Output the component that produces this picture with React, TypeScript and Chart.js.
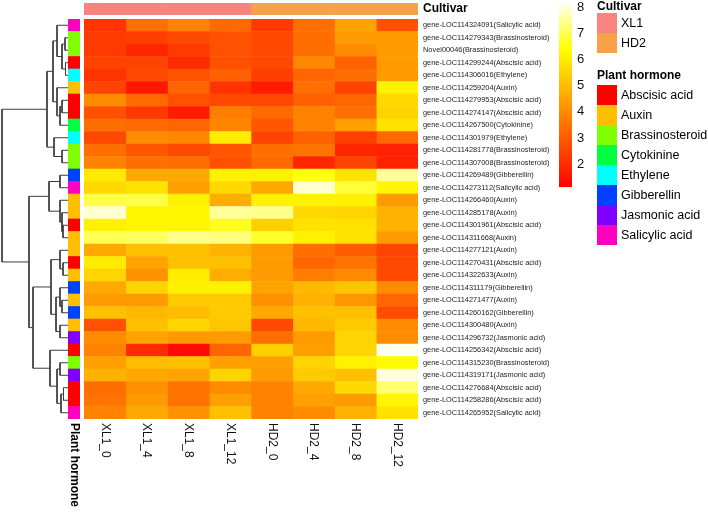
import React, { useEffect, useRef } from "react";
import { Chart, registerables } from "chart.js";

Chart.register(...registerables);

const FONT = '"Liberation Sans", Arial, Helvetica, sans-serif';
Chart.defaults.font.family = FONT;

// ---------------- data ----------------
const columns = ["XL1_0", "XL1_4", "XL1_8", "XL1_12", "HD2_0", "HD2_4", "HD2_8", "HD2_12"];
const cultivarOfColumn = ["XL1", "XL1", "XL1", "XL1", "HD2", "HD2", "HD2", "HD2"];
const cultivars = ["XL1", "HD2"];
const cultivarColors = ["#F9837F", "#F7A249"];

const genes = [
  "gene-LOC114324091(Salicylic acid)",
  "gene-LOC114279343(Brassinosteroid)",
  "Novel00046(Brassinosteroid)",
  "gene-LOC114299244(Abscisic acid)",
  "gene-LOC114306016(Ethylene)",
  "gene-LOC114259204(Auxin)",
  "gene-LOC114279953(Abscisic acid)",
  "gene-LOC114274147(Abscisic acid)",
  "gene-LOC114267500(Cytokinine)",
  "gene-LOC114301979(Ethylene)",
  "gene-LOC114281778(Brassinosteroid)",
  "gene-LOC114307008(Brassinosteroid)",
  "gene-LOC114269489(Gibberellin)",
  "gene-LOC114273112(Salicylic acid)",
  "gene-LOC114266460(Auxin)",
  "gene-LOC114285178(Auxin)",
  "gene-LOC114301961(Abscisic acid)",
  "gene-LOC114311668(Auxin)",
  "gene-LOC114277121(Auxin)",
  "gene-LOC114270431(Abscisic acid)",
  "gene-LOC114322633(Auxin)",
  "gene-LOC114311179(Gibberellin)",
  "gene-LOC114271477(Auxin)",
  "gene-LOC114260162(Gibberellin)",
  "gene-LOC114300480(Auxin)",
  "gene-LOC114296732(Jasmonic acid)",
  "gene-LOC114256342(Abscisic acid)",
  "gene-LOC114315230(Brassinosteroid)",
  "gene-LOC114319171(Jasmonic acid)",
  "gene-LOC114276684(Abscisic acid)",
  "gene-LOC114258286(Abscisic acid)",
  "gene-LOC114265952(Salicylic acid)",
];

const hormones = [
  "Abscisic acid", "Auxin", "Brassinosteroid", "Cytokinine",
  "Ethylene", "Gibberellin", "Jasmonic acid", "Salicylic acid",
];
const hormoneColors = ["#FF0000", "#FFBF00", "#80FF00", "#00FF40", "#00FFFF", "#0040FF", "#8000FF", "#FF00BF"];

// expression values, one array per column (rows in gene order)
const XL1_0 = [2.2, 2.3, 2.3, 2.5, 2.2, 2.5, 4.0, 2.8, 3.4, 2.6, 3.4, 3.8, 5.95, 5.6, 6.9, 7.9, 6.1, 7.0, 4.6, 6.0, 5.5, 4.6, 4.3, 5.1, 2.8, 4.0, 3.8, 4.4, 4.8, 3.4, 3.5, 3.8];
const XL1_4 = [3.4, 2.4, 1.9, 2.5, 2.6, 1.6, 3.3, 2.3, 3.3, 4.0, 2.9, 3.4, 4.6, 5.8, 6.9, 6.2, 6.2, 7.1, 5.1, 4.5, 4.1, 5.5, 4.3, 4.9, 5.1, 4.5, 2.0, 5.0, 4.6, 4.1, 4.3, 4.6];
const XL1_8 = [3.8, 2.6, 2.3, 2.0, 2.8, 3.2, 2.8, 1.7, 3.2, 3.9, 2.6, 3.4, 4.6, 4.4, 6.1, 6.2, 6.2, 7.4, 5.1, 5.1, 6.0, 6.1, 5.3, 5.0, 5.5, 4.3, 1.3, 5.1, 4.5, 3.5, 3.5, 4.1];
const XL1_12 = [3.3, 2.8, 2.8, 2.8, 3.1, 2.2, 2.6, 3.7, 3.9, 6.0, 2.9, 2.8, 6.1, 5.6, 4.7, 7.5, 6.6, 7.3, 4.8, 5.1, 4.7, 6.1, 5.3, 5.3, 5.2, 4.3, 3.2, 4.4, 5.5, 4.0, 4.4, 5.1];
const HD2_0 = [2.3, 2.6, 2.6, 2.6, 2.4, 1.7, 2.6, 3.3, 2.9, 2.5, 3.4, 3.3, 6.1, 4.6, 6.1, 7.4, 5.4, 6.7, 4.3, 4.3, 4.3, 4.5, 4.1, 4.6, 2.6, 3.4, 5.4, 4.4, 4.3, 3.8, 3.8, 3.8];
const HD2_4 = [3.4, 3.4, 3.4, 3.9, 3.2, 3.4, 3.1, 3.8, 3.8, 3.1, 3.5, 1.9, 6.5, 7.9, 6.1, 5.6, 5.8, 6.1, 3.4, 3.2, 3.7, 4.9, 4.8, 5.1, 4.9, 4.3, 4.4, 5.5, 5.3, 4.6, 4.4, 4.0];
const HD2_8 = [4.5, 4.3, 4.0, 3.1, 3.4, 2.5, 3.2, 3.4, 4.4, 2.4, 1.9, 2.5, 5.8, 6.8, 6.1, 5.5, 5.8, 5.8, 3.0, 3.5, 4.0, 5.2, 4.2, 5.1, 5.3, 5.5, 5.5, 6.1, 5.1, 5.6, 4.3, 4.8];
const HD2_12 = [2.8, 4.3, 4.3, 4.3, 4.3, 6.1, 5.6, 5.5, 5.8, 3.3, 1.8, 1.8, 7.5, 6.2, 4.3, 4.8, 4.8, 4.3, 2.5, 2.6, 2.6, 4.0, 3.2, 2.7, 4.0, 4.0, 8.1, 6.3, 8.0, 7.2, 6.2, 5.8];
const columnValues = [XL1_0, XL1_4, XL1_8, XL1_12, HD2_0, HD2_4, HD2_8, HD2_12];

// colour legend
const scaleMin = 1.12;
const scaleMax = 8.15;
const colorbarTicks = [2, 3, 4, 5, 6, 7, 8];

// row dendrogram (hclust style: negative = leaf -(row+1), positive = merge number)
const mergeLeft = [-2, -4, 1, -1, -7, 5, -6, 4, -11, -10, 8, -13, -17, -16, -15, 12, -20, -19, -23, -22, -25, 20, 18, -28, -30, 25, 24, -27, 23, 16, 11];
const mergeRight = [-3, -5, 2, 3, -8, -9, 6, 7, -12, 9, 10, -14, -18, 13, 14, 15, -21, 17, -24, 19, -26, 21, 22, -29, -31, -32, 26, 27, 28, 29, 30];
const mergeHeight = [3, 2.5, 6, 11, 6, 8, 11, 15, 6, 14, 21, 8, 5, 6, 8, 19, 5, 8, 6, 8, 8, 12, 17, 8, 4.5, 7, 11, 18, 35, 39, 66];
const dendroMax = 68;

// ---------------- helpers ----------------
function heatColor(t: number): string {
  const u = Math.max(0, Math.min(1, t));
  if (u <= 0.75) {
    const g = Math.round((u / 0.75) * 255);
    return `rgb(255,${g},0)`;
  }
  const s = 1 - ((u - 0.75) / 0.25) * 0.95;
  return `rgb(255,255,${Math.round(255 * (1 - s))})`;
}
function valueColor(v: number): string {
  return heatColor((v - scaleMin) / (scaleMax - scaleMin));
}
function hormoneOf(label: string): string {
  const m = label.match(/\(([^)]+)\)/);
  return m ? m[1] : "";
}

const TOP = 19; // heatmap top (px)
const ROW_AREA_BOTTOM_PAD = 93; // 512 - 419

export default function App() {
  const dendroRef = useRef<HTMLCanvasElement>(null);
  const annoRef = useRef<HTMLCanvasElement>(null);
  const heatRef = useRef<HTMLCanvasElement>(null);
  const cultRef = useRef<HTMLCanvasElement>(null);
  const barRef = useRef<HTMLCanvasElement>(null);

  useEffect(() => {
    const charts: Chart[] = [];

    // ---- dendrogram ----
    const nodeY: number[] = [];
    const nodeH: number[] = [];
    const pos = (k: number) => (k < 0 ? { y: -k - 1 + 0.5, h: 0 } : { y: nodeY[k - 1], h: nodeH[k - 1] });
    const dendroSets: any[] = [];
    for (let m = 0; m < mergeLeft.length; m++) {
      const a = pos(mergeLeft[m]);
      const b = pos(mergeRight[m]);
      const h = mergeHeight[m];
      nodeY[m] = (a.y + b.y) / 2;
      nodeH[m] = h;
      dendroSets.push({
        data: [
          { x: a.h, y: a.y },
          { x: h, y: a.y },
          { x: h, y: b.y },
          { x: b.h, y: b.y },
        ],
        showLine: true,
        borderColor: "#3c3c3c",
        borderWidth: 1,
        pointRadius: 0,
        tension: 0,
        fill: false,
      });
    }
    if (dendroRef.current) {
      charts.push(
        new Chart(dendroRef.current, {
          type: "scatter",
          data: { datasets: dendroSets },
          options: {
            responsive: false,
            animation: false,
            layout: { padding: { top: TOP, bottom: ROW_AREA_BOTTOM_PAD, left: 0, right: 0 } },
            plugins: { legend: { display: false }, tooltip: { enabled: false } },
            scales: {
              x: { type: "linear", min: 0, max: dendroMax, reverse: true, display: false },
              y: { type: "linear", min: 0, max: genes.length, reverse: true, display: false },
            },
          } as any,
        })
      );
    }

    // ---- hormone annotation column ----
    const plantLabel = {
      id: "plantLabel",
      afterDraw(chart: any) {
        const { ctx, chartArea } = chart;
        ctx.save();
        ctx.font = `bold 12px ${FONT}`;
        ctx.fillStyle = "#000";
        ctx.textAlign = "left";
        ctx.textBaseline = "middle";
        ctx.translate((chartArea.left + chartArea.right) / 2, chartArea.bottom + 4);
        ctx.rotate(Math.PI / 2);
        ctx.fillText("Plant hormone", 0, 0);
        ctx.restore();
      },
    };
    if (annoRef.current) {
      charts.push(
        new Chart(annoRef.current, {
          type: "bar",
          data: {
            labels: genes,
            datasets: [
              {
                data: genes.map(() => 1),
                backgroundColor: genes.map((g) => hormoneColors[hormones.indexOf(hormoneOf(g))]),
                barPercentage: 1,
                categoryPercentage: 1,
                borderWidth: 0,
              },
            ],
          },
          options: {
            indexAxis: "y",
            responsive: false,
            animation: false,
            layout: { padding: { top: TOP, bottom: ROW_AREA_BOTTOM_PAD, left: 8, right: 10 } },
            plugins: { legend: { display: false }, tooltip: { enabled: false } },
            scales: {
              x: { type: "linear", min: 0, max: 1, display: false },
              y: { display: false },
            },
          } as any,
          plugins: [plantLabel],
        })
      );
    }

    // ---- heatmap ----
    const columnLabels = {
      id: "columnLabels",
      afterDraw(chart: any) {
        const { ctx, chartArea } = chart;
        const xs = chart.scales.x;
        ctx.save();
        ctx.font = `12px ${FONT}`;
        ctx.fillStyle = "#111";
        ctx.textAlign = "left";
        ctx.textBaseline = "middle";
        columns.forEach((c, i) => {
          ctx.save();
          ctx.translate(xs.getPixelForValue(i + 0.5), chartArea.bottom + 4);
          ctx.rotate(Math.PI / 2);
          ctx.fillText(c, 0, 0);
          ctx.restore();
        });
        ctx.restore();
      },
    };
    if (heatRef.current) {
      charts.push(
        new Chart(heatRef.current, {
          type: "bar",
          data: {
            labels: genes,
            datasets: columnValues.map((vals, j) => ({
              label: columns[j],
              data: vals.map(() => 1),
              backgroundColor: vals.map(valueColor),
              barPercentage: 1,
              categoryPercentage: 1,
              borderWidth: 0,
              stack: "cells",
            })),
          },
          options: {
            indexAxis: "y",
            responsive: false,
            animation: false,
            layout: { padding: { top: TOP, bottom: ROW_AREA_BOTTOM_PAD, left: 0, right: 0 } },
            plugins: { legend: { display: false }, tooltip: { enabled: false } },
            scales: {
              x: { type: "linear", stacked: true, min: 0, max: columns.length, display: false },
              y: {
                stacked: true,
                position: "right",
                grid: { display: false, drawTicks: false },
                border: { display: false },
                ticks: { autoSkip: false, padding: 5, color: "#222", font: { size: 7.4, family: FONT } },
                afterFit: (s: any) => {
                  s.width = 290;
                },
              },
            },
          } as any,
          plugins: [columnLabels],
        })
      );
    }

    // ---- cultivar bar ----
    if (cultRef.current) {
      charts.push(
        new Chart(cultRef.current, {
          type: "bar",
          data: {
            labels: ["Cultivar"],
            datasets: columns.map((c, j) => ({
              label: c,
              data: [1],
              backgroundColor: cultivarColors[cultivars.indexOf(cultivarOfColumn[j])],
              barPercentage: 1,
              categoryPercentage: 1,
              borderWidth: 0,
              stack: "cult",
            })),
          },
          options: {
            indexAxis: "y",
            responsive: false,
            animation: false,
            layout: { padding: { top: 23, bottom: 25, left: 0, right: 0 } },
            plugins: { legend: { display: false }, tooltip: { enabled: false } },
            scales: {
              x: { type: "linear", stacked: true, min: 0, max: columns.length, display: false },
              y: {
                stacked: true,
                position: "right",
                grid: { display: false, drawTicks: false },
                border: { display: false },
                ticks: { padding: 5, color: "#000", font: { size: 12, weight: "bold", family: FONT } },
                afterFit: (s: any) => {
                  s.width = 290;
                },
              },
            },
          } as any,
        })
      );
    }

    // ---- colour bar ----
    if (barRef.current) {
      charts.push(
        new Chart(barRef.current, {
          type: "bar",
          data: {
            labels: [""],
            datasets: [
              {
                data: [[scaleMin, scaleMax]] as any,
                backgroundColor: (ctx: any) => {
                  const chart = ctx.chart;
                  const area = chart.chartArea;
                  if (!area) return "#f00";
                  const g = chart.ctx.createLinearGradient(0, area.bottom, 0, area.top);
                  for (let k = 0; k <= 60; k++) g.addColorStop(k / 60, heatColor(k / 60));
                  return g;
                },
                barPercentage: 1,
                categoryPercentage: 1,
                borderWidth: 0,
                inflateAmount: 0,
              },
            ],
          },
          options: {
            responsive: false,
            animation: false,
            layout: { padding: { top: 13, bottom: 12, left: 0, right: 0 } },
            plugins: { legend: { display: false }, tooltip: { enabled: false } },
            scales: {
              x: { display: false },
              y: {
                type: "linear",
                min: scaleMin,
                max: scaleMax,
                position: "right",
                grid: { display: false, drawTicks: false },
                border: { display: false },
                afterBuildTicks: (s: any) => {
                  s.ticks = colorbarTicks.map((v) => ({ value: v }));
                },
                ticks: { padding: 5, color: "#111", font: { size: 13, family: FONT } },
                afterFit: (s: any) => {
                  s.width = 27;
                },
              },
            },
          } as any,
        })
      );
    }

    return () => charts.forEach((c) => c.destroy());
  }, []);

  const abs = (l: number, t: number, w: number, h: number): React.CSSProperties => ({
    position: "absolute",
    left: l,
    top: t,
    width: w,
    height: h,
  });

  return (
    <div
      style={{
        position: "fixed",
        left: 0,
        top: 0,
        width: 708,
        height: 512,
        background: "#fff",
        overflow: "hidden",
        fontFamily: FONT,
        color: "#000",
      }}
    >
      <canvas ref={dendroRef} width={68} height={512} style={abs(0, 0, 68, 512)} />
      <canvas ref={annoRef} width={30} height={512} style={abs(60, 0, 30, 512)} />
      <canvas ref={heatRef} width={624} height={512} style={abs(84, 0, 624, 512)} />
      <canvas ref={cultRef} width={624} height={60} style={abs(84, -20, 624, 60)} />
      <canvas ref={barRef} width={40} height={210} style={abs(559, -10, 40, 210)} />

      {/* legends */}
      <div style={{ position: "absolute", left: 597, top: 0, fontWeight: "bold", fontSize: 12, lineHeight: "13px", whiteSpace: "nowrap" }}>
        Cultivar
      </div>
      {cultivars.map((c, i) => (
        <React.Fragment key={c}>
          <div style={{ ...abs(597, 13 + i * 20, 20, 20), background: cultivarColors[i] }} />
          <div style={{ position: "absolute", left: 621, top: 13 + i * 20, height: 20, lineHeight: "20px", fontSize: 12.5, whiteSpace: "nowrap" }}>
            {c}
          </div>
        </React.Fragment>
      ))}
      <div style={{ position: "absolute", left: 597, top: 69, fontWeight: "bold", fontSize: 12, lineHeight: "13px", whiteSpace: "nowrap" }}>
        Plant hormone
      </div>
      {hormones.map((h, i) => (
        <React.Fragment key={h}>
          <div style={{ ...abs(597, 85 + i * 20, 20, 20), background: hormoneColors[i] }} />
          <div style={{ position: "absolute", left: 621, top: 85 + i * 20, height: 20, lineHeight: "20px", fontSize: 12.5, whiteSpace: "nowrap" }}>
            {h}
          </div>
        </React.Fragment>
      ))}
    </div>
  );
}
